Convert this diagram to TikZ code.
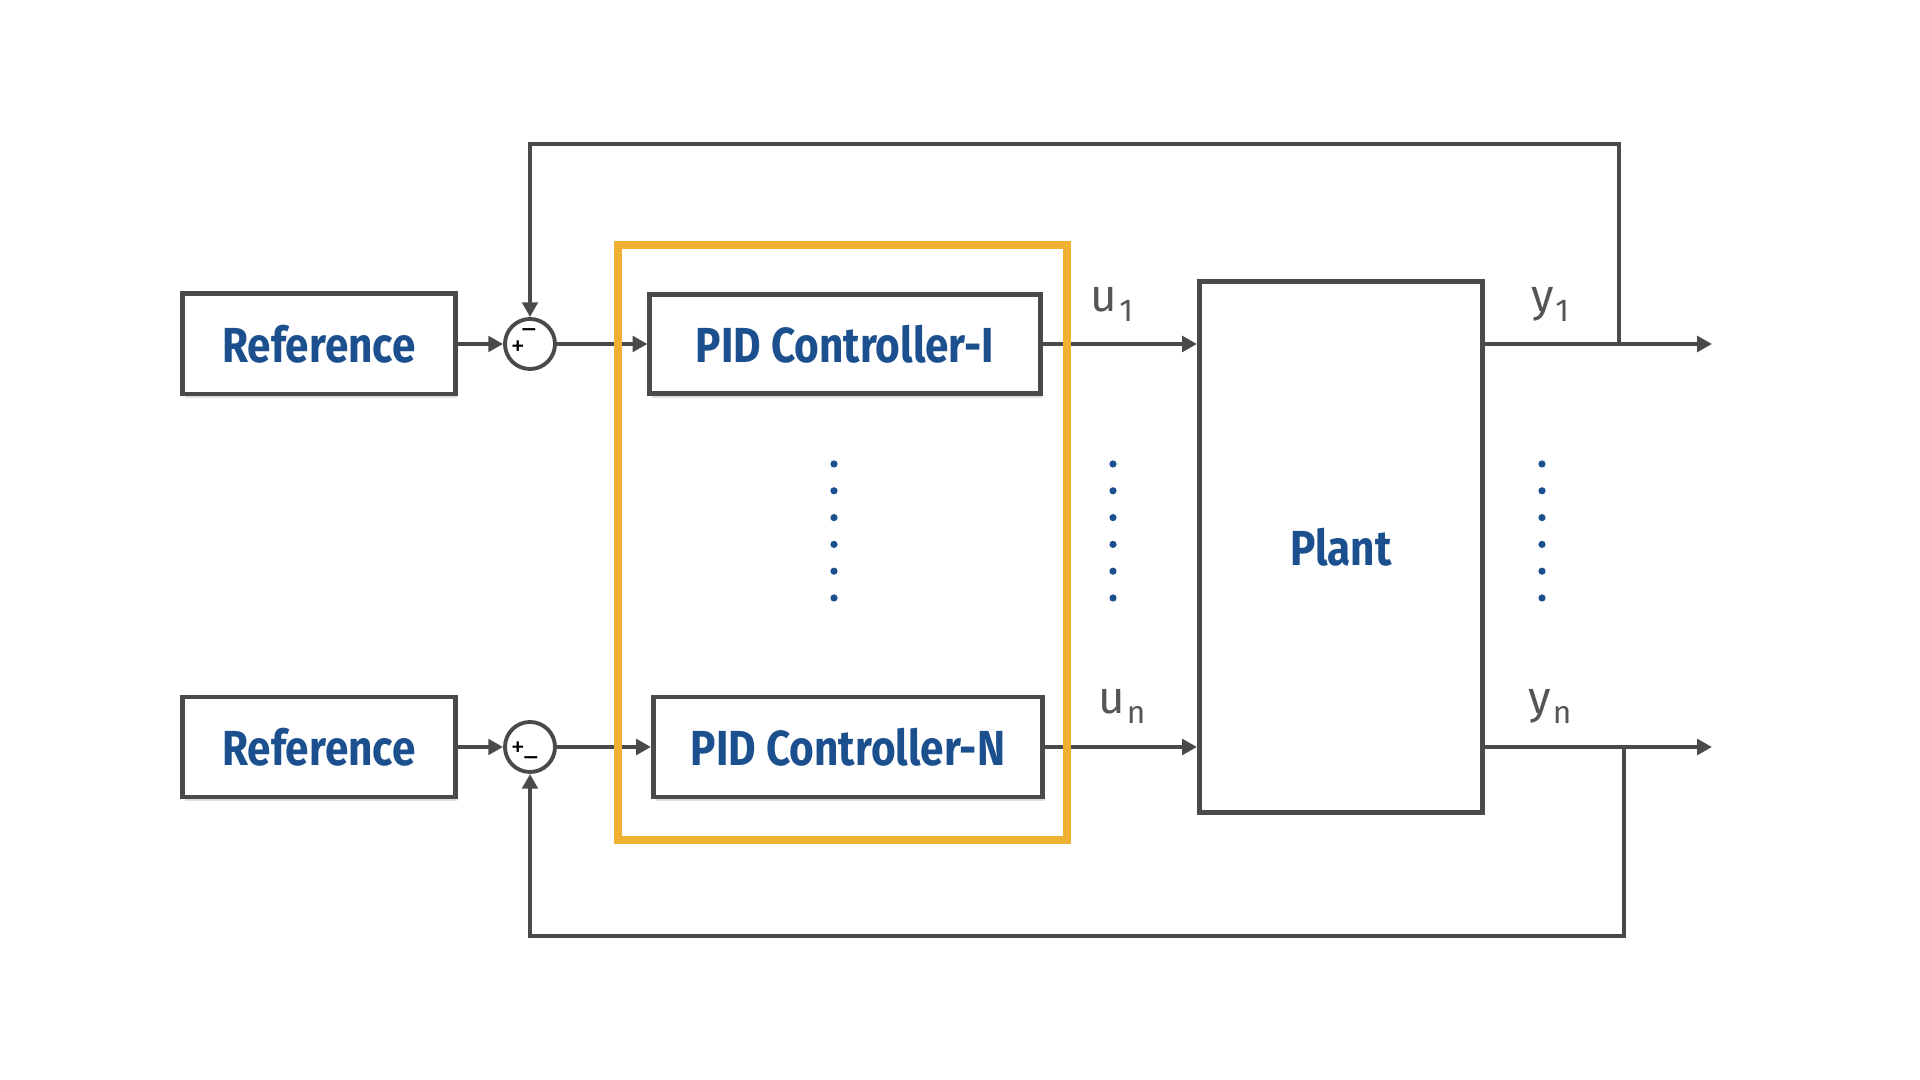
\documentclass[tikz,border=0pt]{standalone}
\usepackage{fontspec}
\setmainfont{Fira Sans}
\newfontfamily\blockfont{Fira Sans}[FakeStretch=0.86]
\usetikzlibrary{arrows.meta,shadows,positioning}

\definecolor{lineGray}{HTML}{4A4A4A}
\definecolor{textBlue}{HTML}{1B4F8E}
\definecolor{frameOrange}{HTML}{F0B132}
\definecolor{labelGray}{HTML}{555555}

\tikzset{
  >={Triangle[length=4.2pt,width=4.4pt]},
  block/.style={draw=lineGray, line width=1.4pt, fill=white, text=textBlue,
    font=\blockfont\fontsize{14}{14}\selectfont\bfseries,
    drop shadow={opacity=0.25, shadow xshift=0.6pt, shadow yshift=-1.2pt}},
  sumjunc/.style={circle, draw=lineGray, line width=1.1pt, fill=white,
    minimum size=5mm, inner sep=0pt},
  sig/.style={draw=lineGray, line width=1.1pt, ->},
  lab/.style={text=labelGray, font=\fontsize{13}{13}\selectfont},
  sgn/.style={text=black, inner sep=0pt, font=\fontsize{8}{8}\selectfont},
}
\newcommand{\sigsub}[2]{#1{\fontsize{9}{9}\selectfont\raisebox{-0.6ex}{\kern0.5pt#2}}}

\begin{document}
\begin{tikzpicture}[x=0.01cm, y=-0.01cm]
    \useasboundingbox (0,0) rectangle (1920,1080);
    % blocks
    \node[block, minimum width=2.72cm, minimum height=1cm] (ref1) at (319,344) {Reference};
    \node[block, minimum width=2.72cm, minimum height=1cm] (ref2) at (319,747) {Reference};
    \node[sumjunc] (sum1) at (530,344) {};
    \node[sumjunc] (sum2) at (530,747) {};
    \node[block, minimum width=3.9cm, minimum height=0.99cm] (pid1) at (845,344) {PID Controller-I};
    \node[block, minimum width=3.89cm, minimum height=1cm] (pidN) at (848,747) {PID Controller-N};
    \node[draw=lineGray, line width=1.4pt, minimum width=2.83cm, minimum height=5.3cm,
      text=textBlue, font=\blockfont\fontsize{14}{14}\selectfont\bfseries] (plant) at (1341,547) {Plant};
    % signs
    \node[sgn] (m1) at (529,334) {--};
    \node[sgn] (p1) at (518,348) {+};
    \node[sgn] (p2) at (518,749) {+};
    \node[sgn] (m2) at (531,762) {--};
    % signals
    \coordinate (tap1) at (1619,344);
    \coordinate (tap2) at (1624,747);
    \coordinate (out1) at (1712,344);
    \coordinate (outN) at (1712,747);
    \coordinate (fbtop) at (530,144);
    \coordinate (fbbot) at (530,936);
    \draw[sig] (ref1) -- (sum1);
    \draw[sig] (ref2) -- (sum2);
    \draw[sig] (sum1) -- (pid1);
    \draw[sig] (sum2) -- (pidN);
    \draw[sig] (pid1) -- (pid1 -| plant.west);
    \draw[sig] (pidN) -- (pidN -| plant.west);
    \draw[sig] (plant.east |- out1) -- (out1);
    \draw[sig] (plant.east |- outN) -- (outN);
    \draw[sig] (tap1) |- (fbtop) -- (sum1);
    \draw[sig] (tap2) |- (fbbot) -- (sum2);
    % controller group
    \draw[frameOrange, line width=2pt] (618,245) rectangle (1067,840);
    % labels
    \node[lab] (u1) at (1112,304) {\sigsub{u}{1}};
    \node[lab] (un) at (1122,706) {\sigsub{u}{n}};
    \node[lab] (y1) at (1550,304) {\sigsub{y}{1}};
    \node[lab] (yn) at (1550,706) {\sigsub{y}{n}};
    % dots
    \foreach \xd in {834,1113,1542}
      \foreach \k in {0,...,5}
        \fill[textBlue] (\xd,464+\k*26.8) circle [radius=0.36mm];
\end{tikzpicture}
\end{document}
